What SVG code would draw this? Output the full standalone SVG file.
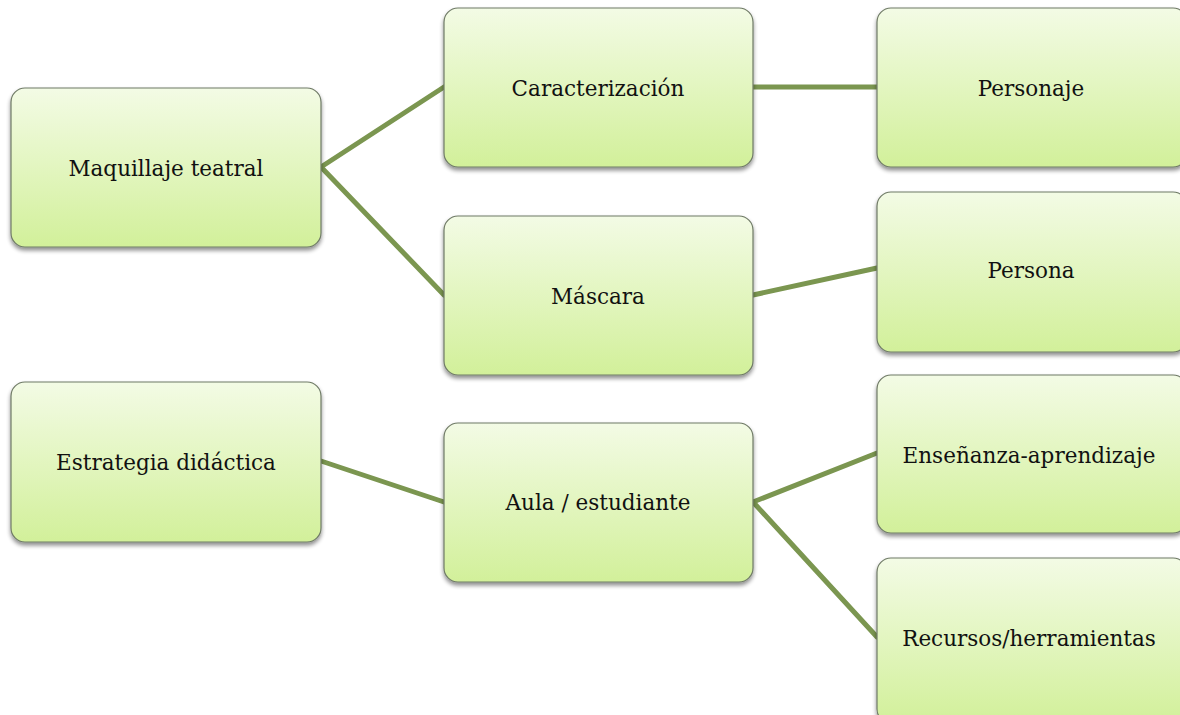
<svg xmlns="http://www.w3.org/2000/svg" width="1180" height="715" viewBox="0 0 1180 715">
<defs>
<linearGradient id="g" x1="0" y1="0" x2="0" y2="1">
<stop offset="0" stop-color="#f3fbe5"/>
<stop offset="1" stop-color="#d2f09a"/>
</linearGradient>
<filter id="sh" x="-10%" y="-10%" width="120%" height="130%">
<feGaussianBlur in="SourceAlpha" stdDeviation="2"/>
<feOffset dx="0" dy="3" result="b"/>
<feComponentTransfer><feFuncA type="linear" slope="0.45"/></feComponentTransfer>
<feMerge><feMergeNode/><feMergeNode in="SourceGraphic"/></feMerge>
</filter>
</defs>
<style>
.box{fill:url(#g);stroke:#6f7a66;stroke-width:1.2;filter:url(#sh)}
.t{font-family:"DejaVu Serif","Liberation Serif",serif;font-size:21.5px;fill:#111;text-anchor:middle;dominant-baseline:middle}
.c{stroke:#7b9650;stroke-width:5;fill:none;stroke-linecap:round}
</style>
<rect width="1180" height="715" fill="#fff"/>
<g id="connectors">
<line class="c" x1="321" y1="167" x2="444" y2="87"/>
<line class="c" x1="321" y1="167" x2="444" y2="295"/>
<line class="c" x1="753" y1="87" x2="877" y2="87"/>
<line class="c" x1="753" y1="295" x2="877" y2="268"/>
<line class="c" x1="321" y1="461" x2="444" y2="502"/>
<line class="c" x1="753" y1="502" x2="877" y2="453"/>
<line class="c" x1="753" y1="502" x2="877" y2="637"/>
</g>
<g id="n1"><rect class="box" x="11" y="88" width="310" height="159" rx="14"/><text class="t" x="166" y="170">Maquillaje teatral</text></g>
<g id="n2"><rect class="box" x="444" y="8" width="309" height="159" rx="14"/><text class="t" x="598" y="90">Caracterización</text></g>
<g id="n3"><rect class="box" x="877" y="8" width="310" height="159" rx="14"/><text class="t" x="1031" y="90">Personaje</text></g>
<g id="n4"><rect class="box" x="444" y="216" width="309" height="159" rx="14"/><text class="t" x="598" y="298">Máscara</text></g>
<g id="n5"><rect class="box" x="877" y="192" width="310" height="160" rx="14"/><text class="t" x="1031" y="272">Persona</text></g>
<g id="n6"><rect class="box" x="11" y="382" width="310" height="160" rx="14"/><text class="t" x="166" y="464">Estrategia didáctica</text></g>
<g id="n7"><rect class="box" x="444" y="423" width="309" height="159" rx="14"/><text class="t" x="598" y="504">Aula / estudiante</text></g>
<g id="n8"><rect class="box" x="877" y="375" width="310" height="158" rx="14"/><text class="t" x="1029" y="457">Enseñanza-aprendizaje</text></g>
<g id="n9"><rect class="box" x="877" y="558" width="310" height="165" rx="14"/><text class="t" x="1029" y="640">Recursos/herramientas</text></g>
</svg>
